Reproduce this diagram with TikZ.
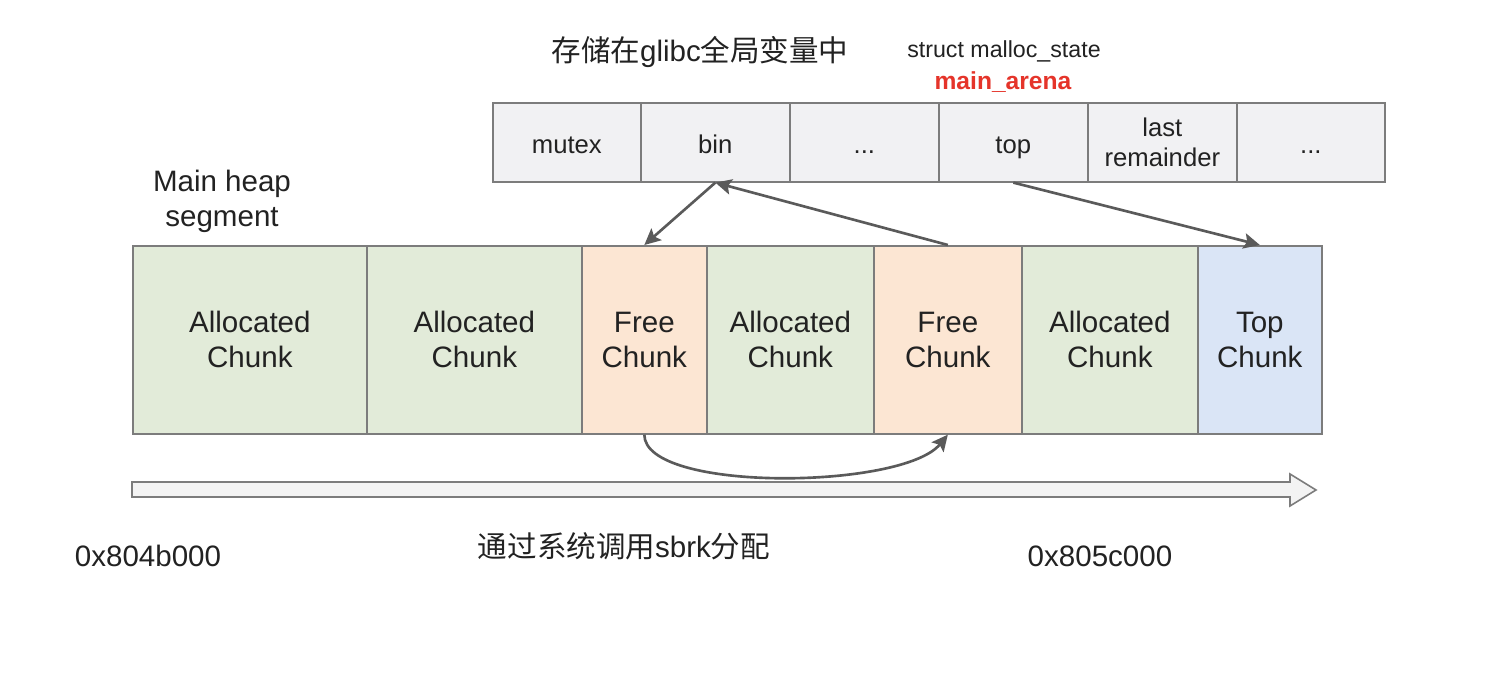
\documentclass[tikz,border=0pt]{standalone}
\usepackage{fontspec}
\setmainfont{Liberation Sans}
\newfontfamily\cjk{Noto Sans CJK SC}
\usetikzlibrary{arrows.meta}
\definecolor{allocg}{HTML}{E2EBD9}
\definecolor{freeo}{HTML}{FCE6D3}
\definecolor{topb}{HTML}{DAE5F6}
\definecolor{structfill}{HTML}{F1F1F3}
\definecolor{bordergray}{HTML}{7C7C7C}
\definecolor{arrowc}{HTML}{5A5A5A}
\definecolor{textc}{HTML}{222222}
\definecolor{arenared}{HTML}{E5342A}
\definecolor{bigfill}{HTML}{F3F3F3}
\begin{document}
\begin{tikzpicture}[x=0.01cm,y=-0.01cm,
  cell/.style={draw=bordergray, line width=0.45pt, inner sep=0pt, anchor=north west, align=center, text=textc},
  chunk/.style={cell, minimum height=1.88cm, font=\fontsize{8.4}{10}\selectfont},
  field/.style={cell, fill=structfill, minimum height=0.79cm, font=\fontsize{7.3}{8.5}\selectfont},
  field1/.style={field, text height=1.45ex, text depth=0.2ex},
  ptr/.style={draw=arrowc, line width=0.75pt, -{Stealth[length=4.6pt,width=4.4pt,inset=0.9pt]}},
  lbl/.style={text=textc, inner sep=0pt, font=\fontsize{8.4}{10}\selectfont, align=center},
  cjklbl/.style={text=textc, inner sep=0pt, font=\fontsize{8.4}{10}\selectfont}
]
\useasboundingbox[fill=white] (0,0) rectangle (1496,695);

% struct malloc_state fields
\node[field1, minimum width=1.48cm] (b1) at (492,102) {mutex};
\node[field1, minimum width=1.49cm] (b2) at (640,102) {bin};
\node[field1, minimum width=1.49cm] (b3) at (789,102) {...};
\node[field1, minimum width=1.49cm] (b4) at (938,102) {top};
\node[field, minimum width=1.49cm] (b5) at (1087,102) {last\\remainder};
\node[field1, minimum width=1.48cm] (b6) at (1236,102) {...};

% titles
\node[cjklbl] (title) at (700,52) {{\cjk 存储在}glibc{\cjk 全局变量中}};
\node[text=textc, inner sep=0pt, font=\fontsize{6.6}{8}\selectfont] (sname) at (1004,51) {struct malloc\_state};
\node[text=arenared, inner sep=0pt, font=\bfseries\fontsize{7}{8}\selectfont] (arena) at (1003,82) {main\_arena};
\node[lbl] (heaplbl) at (222,201) {Main heap\\segment};

% heap chunks
\node[chunk, fill=allocg, minimum width=2.34cm] (c1) at (132,245) {Allocated\\Chunk};
\node[chunk, fill=allocg, minimum width=2.15cm] (c2) at (366,245) {Allocated\\Chunk};
\node[chunk, fill=freeo, minimum width=1.25cm] (c3) at (581,245) {Free\\Chunk};
\node[chunk, fill=allocg, minimum width=1.67cm] (c4) at (706,245) {Allocated\\Chunk};
\node[chunk, fill=freeo, minimum width=1.48cm] (c5) at (873,245) {Free\\Chunk};
\node[chunk, fill=allocg, minimum width=1.76cm] (c6) at (1021,245) {Allocated\\Chunk};
\node[chunk, fill=topb, minimum width=1.24cm] (c7) at (1197,245) {Top\\Chunk};

% pointers
\draw[ptr] (b2.south) -- (c3.north);
\draw[ptr] (c5.north) -- (b2.south);
\draw[ptr] (b4.south) -- (c7.north);
\draw[ptr] (c3.south) .. controls +(0,58) and +(-45,55) .. (c5.south);

% growth arrow
\draw[draw=bordergray, fill=bigfill, line width=0.45pt]
  (132,482) -- (1290,482) -- (1290,474) -- (1316,490) -- (1290,506) -- (1290,497) -- (132,497) -- cycle;

% bottom labels
\node[lbl] (addr1) at (148,556) {0x804b000};
\node[lbl] (addr2) at (1100,556) {0x805c000};
\node[cjklbl] (sbrk) at (624,546) {{\cjk 通过系统调用}sbrk{\cjk 分配}};
\end{tikzpicture}
\end{document}
